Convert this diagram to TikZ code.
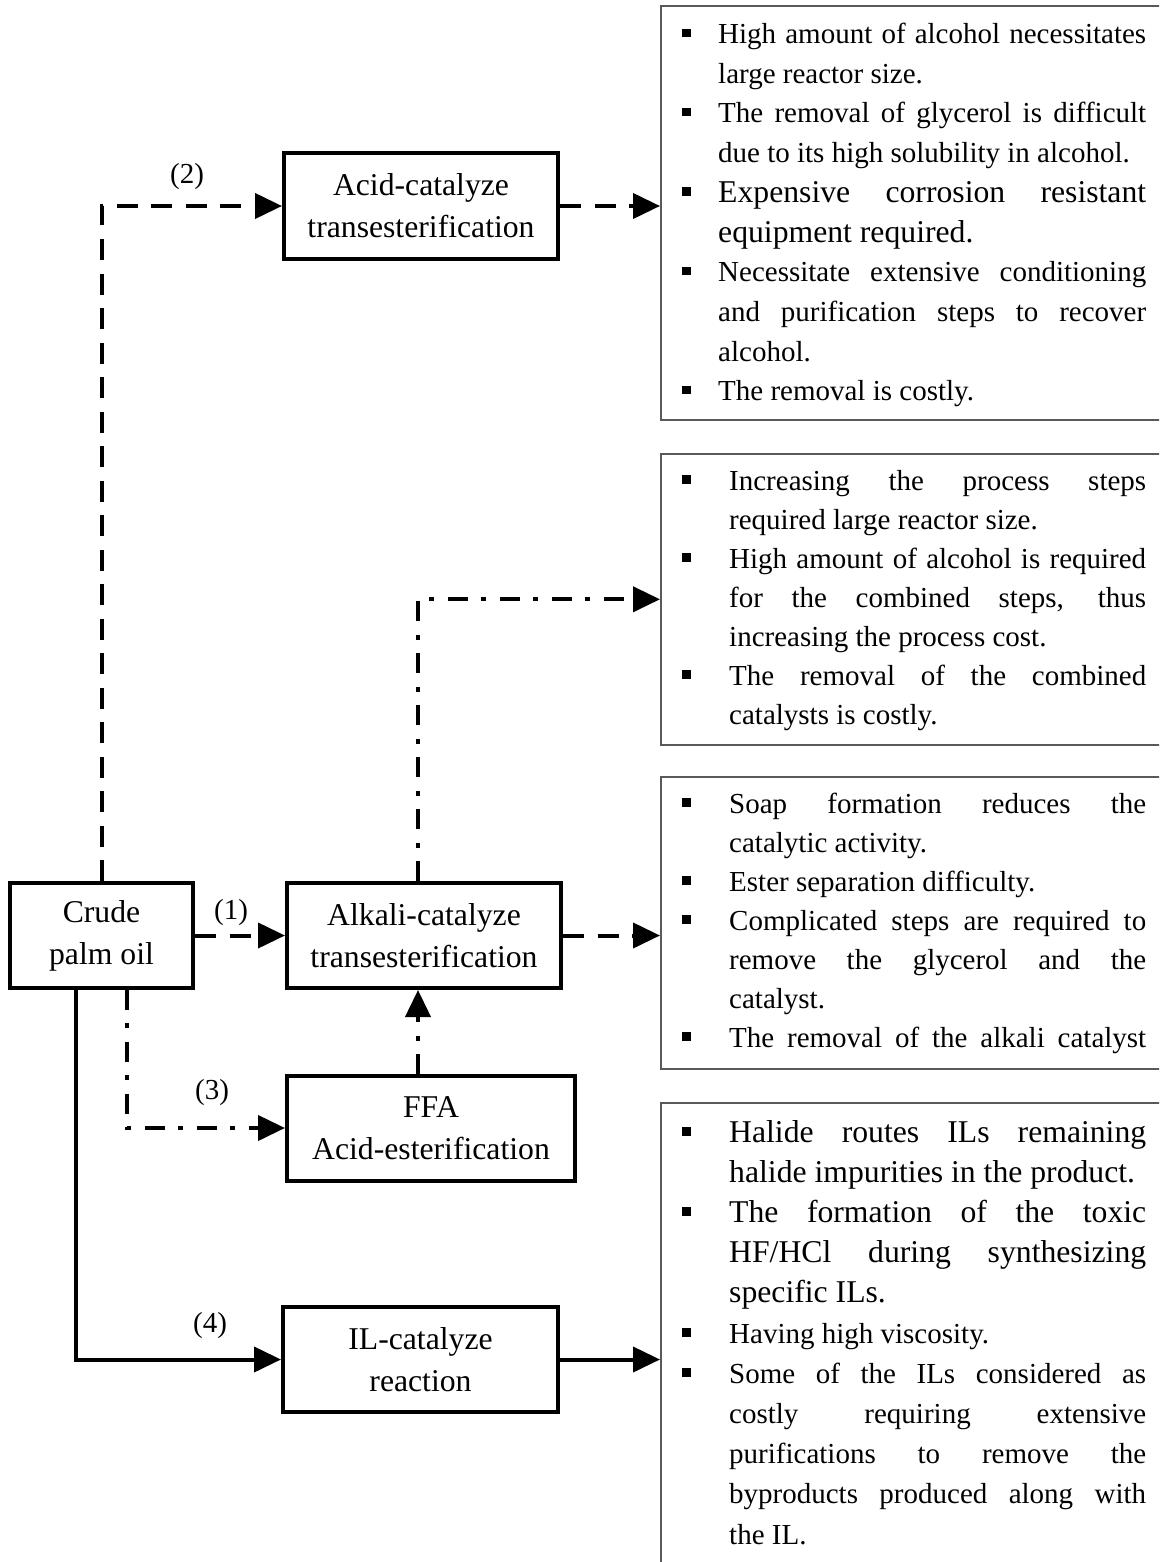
\documentclass[tikz,border=0pt]{standalone}
\usepackage{fontspec}
\setmainfont{Liberation Serif}
\usetikzlibrary{arrows.meta}
\newlength\bulw
\newlength\txtw
\newcommand\sqbul{\rule[6.5pt]{8.5pt}{8.5pt}}
\newcommand\bigfnt{\fontsize{31.7}{39.7}\selectfont}
\newcommand\itJ[1]{\makebox[\bulw][l]{\sqbul}\makebox[\txtw][s]{#1}}
\newcommand\itR[1]{\makebox[\bulw][l]{\sqbul}#1}
\newcommand\coJ[1]{\hspace*{\bulw}\makebox[\txtw][s]{#1}}
\newcommand\coR[1]{\hspace*{\bulw}#1}
\tikzset{
  procbox/.style={draw, line width=4pt, minimum height=105pt, inner sep=0pt, align=center, font=\fontsize{31.7}{42}\selectfont},
  listbox/.style={draw=black!65, line width=1.6pt, anchor=north west, inner sep=0pt},
  listtext/.style={anchor=base west, inner sep=0pt},
  lbl/.style={inner sep=0pt, font=\fontsize{29}{35}\selectfont},
  conn/.style={line width=4pt, -{Triangle[length=27pt,width=25pt]}},
  dashline/.style={conn, dash pattern=on 21pt off 13.5pt},
  dotline/.style={conn, dash pattern=on 20pt off 13pt on 5pt off 14pt},
}
\begin{document}
\begin{tikzpicture}[x=1pt,y=-1pt]
\useasboundingbox (0,0) rectangle (1159,1562);
\clip (0,0) rectangle (1159,1562);

% process boxes
\node[procbox, minimum width=274pt] (acid) at (421,206) {Acid-catalyze\\transesterification};
\node[procbox, minimum width=183pt] (crude) at (101.5,935.5) {Crude\\palm oil};
\node[procbox, minimum width=274pt] (alkali) at (424,935.5) {Alkali-catalyze\\transesterification};
\node[procbox, minimum width=288pt] (ffa) at (431,1128) {FFA\\Acid-esterification};
\node[procbox, minimum width=275pt] (il) at (420.5,1359.5) {IL-catalyze\\reaction};

% list boxes
\node[listbox, minimum width=560pt, minimum height=414pt] (b1) at (660,5) {};
\node[listbox, minimum width=560pt, minimum height=291pt] (b2) at (660,453) {};
\node[listbox, minimum width=560pt, minimum height=292pt] (b3) at (660,776) {};
\node[listbox, minimum width=560pt, minimum height=600pt] (b4) at (660,1102) {};

\node[listtext, font=\fontsize{29}{39.7}\selectfont] (t1) at (682,43.6) {\setlength\bulw{36pt}\setlength\txtw{428pt}%
\begin{tabular}[t]{@{}l@{}}
\itJ{High amount of alcohol necessitates}\\
\coR{large reactor size.}\\
\itJ{The removal of glycerol is difficult}\\
\coR{due to its high solubility in alcohol.}\\
\itJ{\bigfnt Expensive corrosion resistant}\\
\coR{\bigfnt equipment required.}\\
\itJ{Necessitate extensive conditioning}\\
\coJ{and purification steps to recover}\\
\coR{alcohol.}\\
\itR{The removal is costly.}
\end{tabular}};

\node[listtext, font=\fontsize{29}{39}\selectfont] (t2) at (682,490) {\setlength\bulw{47pt}\setlength\txtw{417pt}%
\begin{tabular}[t]{@{}l@{}}
\itJ{Increasing the process steps}\\
\coR{required large reactor size.}\\
\itJ{High amount of alcohol is required}\\
\coJ{for the combined steps, thus}\\
\coR{increasing the process cost.}\\
\itJ{The removal of the combined}\\
\coR{catalysts is costly.}
\end{tabular}};

\node[listtext, font=\fontsize{29}{39}\selectfont] (t3) at (682,813) {\setlength\bulw{47pt}\setlength\txtw{417pt}%
\begin{tabular}[t]{@{}l@{}}
\itJ{Soap formation reduces the}\\
\coR{catalytic activity.}\\
\itR{Ester separation difficulty.}\\
\itJ{Complicated steps are required to}\\
\coJ{remove the glycerol and the}\\
\coR{catalyst.}\\
\itJ{The removal of the alkali catalyst}
\end{tabular}};

\node[listtext, font=\fontsize{29}{40.2}\selectfont] (t4) at (682,1142) {\setlength\bulw{47pt}\setlength\txtw{417pt}%
\begin{tabular}[t]{@{}l@{}}
\itJ{\bigfnt Halide routes ILs remaining}\\
\coR{\bigfnt halide impurities in the product.}\\
\itJ{\bigfnt The formation of the toxic}\\
\coJ{\bigfnt HF/HCl during synthesizing}\\
\coR{\bigfnt specific ILs.}\\
\itR{Having high viscosity.}\\
\itJ{Some of the ILs considered as}\\
\coJ{costly requiring extensive}\\
\coJ{purifications to remove the}\\
\coJ{byproducts produced along with}\\
\coR{the IL.}
\end{tabular}};

% labels
\node[lbl] (n2) at (187,177) {(2)};
\node[lbl] (n1) at (231,913) {(1)};
\node[lbl] (n3) at (212,1093) {(3)};
\node[lbl] (n4) at (210,1326) {(4)};

% connectors
\coordinate (xa) at (418,0);
\draw[dashline] (crude.north) |- (acid.west);
\draw[dashline] (acid.east) -- (b1.west |- acid.east);
\draw[dashline] (crude.east) -- (alkali.west);
\draw[dashline] (alkali.east) -- (b3.west |- alkali.east);
\draw[dotline] (alkali.north -| xa) |- (b2.west);
\draw[dotline] (ffa.north -| xa) -- (alkali.south -| xa);
\draw[dotline] ([xshift=25.5pt]crude.south) |- (ffa.west);
\draw[conn] ([xshift=-25.5pt]crude.south) |- (il.west);
\draw[conn] (il.east) -- (b4.west |- il.east);
\end{tikzpicture}
\end{document}
